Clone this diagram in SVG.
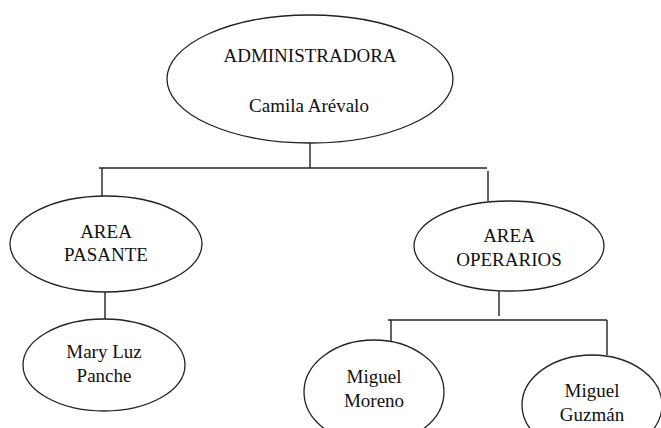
<svg xmlns="http://www.w3.org/2000/svg" width="661" height="428" viewBox="0 0 661 428">
<style>
.node ellipse{fill:#fff;stroke:#222;stroke-width:1.3}
.lbl{font-size:19px;fill:#111;text-anchor:middle}
#connectors line{stroke:#222;stroke-width:1.4}
</style>
<rect width="661" height="428" fill="#fff"/>
<g id="connectors">
<line x1="310" y1="143" x2="310" y2="168"/>
<line x1="99" y1="168" x2="487" y2="168"/>
<line x1="102" y1="168" x2="102" y2="197"/>
<line x1="488" y1="171" x2="488" y2="201"/>
<line x1="105" y1="292" x2="105" y2="319"/>
<line x1="499" y1="291" x2="499" y2="316"/>
<line x1="388" y1="320" x2="607" y2="320"/>
<line x1="391" y1="320" x2="391" y2="342"/>
<line x1="607" y1="320" x2="607" y2="355"/>
</g>
<g font-family="Liberation Serif, DejaVu Serif, serif">
<g id="admin" class="node">
<ellipse cx="310" cy="79" rx="143" ry="64"/>
<text class="lbl" x="310" y="62">ADMINISTRADORA</text>
<text class="lbl" x="309" y="112">Camila Arévalo</text>
</g>
<g id="pasante" class="node">
<ellipse cx="106" cy="244" rx="96" ry="48"/>
<text class="lbl" x="106" y="238">AREA</text>
<text class="lbl" x="106" y="261">PASANTE</text>
</g>
<g id="operarios" class="node">
<ellipse cx="509" cy="246" rx="95" ry="45"/>
<text class="lbl" x="509" y="242">AREA</text>
<text class="lbl" x="509" y="266">OPERARIOS</text>
</g>
<g id="mary" class="node">
<ellipse cx="104" cy="365" rx="81" ry="46"/>
<text class="lbl" x="104" y="358">Mary Luz</text>
<text class="lbl" x="104" y="382">Panche</text>
</g>
<g id="moreno" class="node">
<ellipse cx="374" cy="392" rx="70" ry="52"/>
<text class="lbl" x="374" y="383">Miguel</text>
<text class="lbl" x="374" y="407">Moreno</text>
</g>
<g id="guzman" class="node">
<ellipse cx="592" cy="405" rx="70" ry="50"/>
<text class="lbl" x="592" y="397">Miguel</text>
<text class="lbl" x="592" y="421">Guzmán</text>
</g>
</g>
</svg>
